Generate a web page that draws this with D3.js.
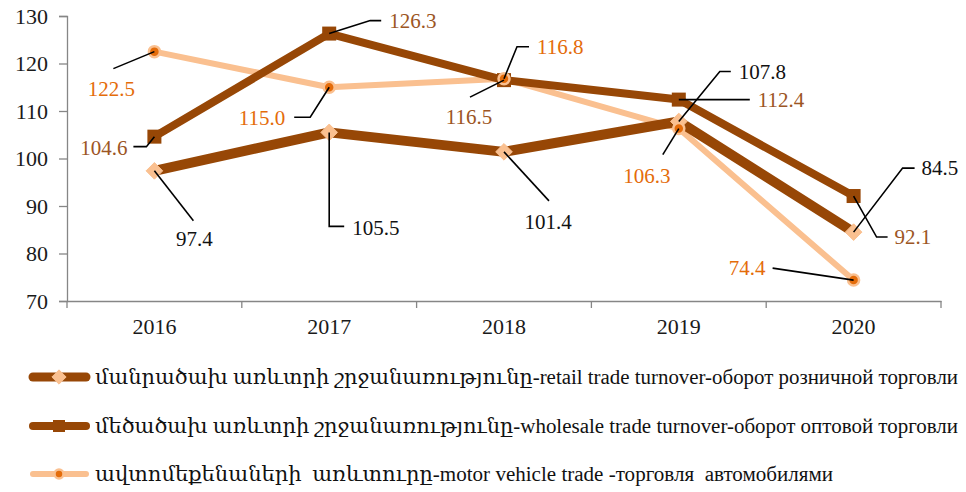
<!DOCTYPE html>
<html>
<head>
<meta charset="utf-8">
<script src="https://cdn.jsdelivr.net/npm/d3@7"></script>
<style>
  body { margin: 0; background: #fff; }
  text { font-family: "Liberation Serif", "DejaVu Serif", "DejaVu Sans", serif; }
</style>
</head>
<body>
<script>
const W = 966, H = 492;
const margin = {top: 16, right: 25, bottom: 191, left: 67};
const width = W - margin.left - margin.right;
const height = H - margin.top - margin.bottom;

const years = ["2016", "2017", "2018", "2019", "2020"];
const retail = [97.4, 105.5, 101.4, 107.8, 84.5];
const wholesale = [104.6, 126.3, 116.5, 112.4, 92.1];
const motor = [122.5, 115.0, 116.8, 106.3, 74.4];
const yTicks = [70, 80, 90, 100, 110, 120, 130];
const legendNames = [
  "մանրածախ առևտրի շրջանառությունը-retail trade turnover-оборот розничной торговли",
  "մեծածախ առևտրի շրջանառությունը-wholesale trade turnover-оборот оптовой торговли",
  "ավտոմեքենաների  առևտուրը-motor vehicle trade -торговля  автомобилями"
];

const darkBrown = "#974706", peach = "#FAC090", orange = "#E46C0A";

// label placement: leader path offsets + text offset (px from the point)
const retailLbl = [
  {path: [[39, 50]], tx: 40, ty: 68, anchor: "middle"},
  {path: [[0, 94], [15, 94]], tx: 23, ty: 95, anchor: "start"},
  {path: [[45, 49]], tx: 44, ty: 70, anchor: "middle"},
  {path: [[41, -50], [52, -50]], tx: 60, ty: -50, anchor: "start"},
  {path: [[49, -64], [61, -64]], tx: 68, ty: -64, anchor: "start"}
];
const wholesaleLbl = [
  {path: [[-8, 10], [-21, 10]], tx: -27, ty: 11, anchor: "end"},
  {path: [[41, -13], [52, -13]], tx: 60, ty: -13, anchor: "start"},
  {path: [[-34, 17]], tx: -35, ty: 37, anchor: "middle"},
  {path: [[71, 0]], tx: 79, ty: 0, anchor: "start"},
  {path: [[23, 41], [34, 41]], tx: 41, ty: 41, anchor: "start"}
];
const motorLbl = [
  {path: [[-41, 17]], tx: -43, ty: 37, anchor: "middle"},
  {path: [[-19, 30], [-35, 30]], tx: -44, ty: 30, anchor: "end"},
  {path: [[13, -32], [25, -32]], tx: 33, ty: -32, anchor: "start"},
  {path: [[-16, 26]], tx: -32, ty: 47, anchor: "middle"},
  {path: [[-81, -12]], tx: -88, ty: -12, anchor: "end"}
];

const svg = d3.select("body").append("svg")
  .attr("width", W).attr("height", H);

const g = svg.append("g")
  .attr("transform", "translate(" + margin.left + "," + margin.top + ")");

const x = d3.scaleBand().domain(years).range([0, width]);
const y = d3.scaleLinear().domain([70, 130]).range([height, 0]);
const cx = d => x(d) + x.bandwidth() / 2;

// axes
const yAxis = g.append("g")
  .call(d3.axisLeft(y).tickValues(yTicks).tickSize(8).tickPadding(11));
const xAxis = g.append("g")
  .attr("transform", "translate(0," + height + ")")
  .call(d3.axisBottom(x).tickSize(0).tickPadding(17));

[yAxis, xAxis].forEach(a => {
  a.select(".domain").attr("stroke", "#868686").attr("stroke-width", 1.3);
  a.selectAll(".tick line").attr("stroke", "#868686").attr("stroke-width", 1.3);
  a.selectAll("text").attr("fill", "#1a1a1a").style("font-size", "22px");
});

// band boundary ticks on x axis
g.append("g").selectAll("line")
  .data(years.map(d => x(d)).concat([width]))
  .enter().append("line")
  .attr("x1", d => d).attr("x2", d => d)
  .attr("y1", height).attr("y2", height + 7)
  .attr("stroke", "#868686").attr("stroke-width", 1.3);

const line = d3.line().x((d, i) => cx(years[i])).y(d => y(d));

const series = [
  {vals: motor, stroke: peach, sw: 6, labels: motorLbl, lc: orange},
  {vals: retail, stroke: darkBrown, sw: 10, labels: retailLbl, lc: "#111"},
  {vals: wholesale, stroke: darkBrown, sw: 8, labels: wholesaleLbl, lc: "#9C5524"}
];

series.forEach(s => {
  g.append("path").datum(s.vals)
    .attr("d", line)
    .attr("fill", "none")
    .attr("stroke", s.stroke)
    .attr("stroke-width", s.sw)
    .attr("stroke-linejoin", "round");
});

// markers
function drawMarker(sel, kind, size) {
  if (kind === "diamond") {
    sel.append("path")
      .attr("d", d3.symbol().type(d3.symbolDiamond2).size(size * size * 0.9))
      .attr("fill", peach).attr("stroke", peach).attr("stroke-width", 1);
  } else if (kind === "square") {
    sel.append("rect")
      .attr("x", -size / 2).attr("y", -size / 2)
      .attr("width", size).attr("height", size)
      .attr("fill", darkBrown);
  } else {
    sel.append("circle").attr("r", size / 2)
      .attr("fill", orange).attr("stroke", peach).attr("stroke-width", 2.5);
  }
}

g.selectAll(".mRetail").data(retail).enter().append("g")
  .attr("class", "mRetail")
  .attr("transform", (d, i) => "translate(" + cx(years[i]) + "," + y(d) + ")")
  .call(sel => drawMarker(sel, "diamond", 14));

g.selectAll(".mWholesale").data(wholesale).enter().append("g")
  .attr("class", "mWholesale")
  .attr("transform", (d, i) => "translate(" + cx(years[i]) + "," + y(d) + ")")
  .call(sel => drawMarker(sel, "square", 14));

g.selectAll(".mMotor").data(motor).enter().append("g")
  .attr("class", "mMotor")
  .attr("transform", (d, i) => "translate(" + cx(years[i]) + "," + y(d) + ")")
  .call(sel => drawMarker(sel, "circle", 11));

// data labels with leader lines
const labelsG = g.append("g");
series.forEach(s => {
  s.vals.forEach((v, i) => {
    const px = cx(years[i]), py = y(v);
    const L = s.labels[i];
    const pts = [[px, py]].concat(L.path.map(p => [px + p[0], py + p[1]]));
    labelsG.append("path")
      .attr("d", d3.line()(pts))
      .attr("fill", "none")
      .attr("stroke", "#000")
      .attr("stroke-width", 1.6);
    labelsG.append("text")
      .attr("x", px + L.tx)
      .attr("y", py + L.ty)
      .attr("dy", "0.35em")
      .attr("text-anchor", L.anchor)
      .attr("fill", s.lc)
      .style("font-size", "21px")
      .text(v.toFixed(1));
  });
});

// legend
const legendY = [377, 426, 474];
const legendTextWidth = [863, 863, 738];
const legendStyle = [
  {stroke: darkBrown, sw: 9, kind: "diamond", size: 12},
  {stroke: darkBrown, sw: 8, kind: "square", size: 12},
  {stroke: peach, sw: 6, kind: "circle", size: 9}
];
const legend = svg.append("g");
legendNames.forEach((name, i) => {
  const st = legendStyle[i];
  const row = legend.append("g").attr("transform", "translate(0," + legendY[i] + ")");
  row.append("line")
    .attr("x1", 33).attr("x2", 86)
    .attr("stroke", st.stroke).attr("stroke-width", st.sw)
    .attr("stroke-linecap", "round");
  const m = row.append("g").attr("transform", "translate(59,0)");
  drawMarker(m, st.kind, st.size);
  row.append("text")
    .attr("x", 95).attr("y", 0).attr("dy", "0.35em")
    .attr("fill", "#111")
    .style("font-size", "20px")
    .attr("xml:space", "preserve")
    .attr("textLength", legendTextWidth[i])
    .attr("lengthAdjust", "spacingAndGlyphs")
    .text(name);
});
</script>
</body>
</html>
